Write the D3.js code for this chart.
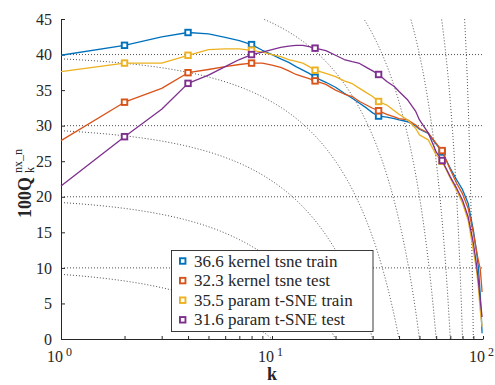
<!DOCTYPE html>
<html>
<head>
<meta charset="utf-8">
<script src="https://cdn.jsdelivr.net/npm/d3@7/dist/d3.min.js"></script>
<style>
  body { margin: 0; background: #fff; }
  svg { display: block; }
  text { font-family: "Liberation Serif", "Times New Roman", serif; fill: #262626; }
</style>
</head>
<body>
<svg id="chart" width="495" height="385"></svg>
<script>
// neighbourhood sizes k
const kVals = [1,2,3,4,5,6,7,8,9,10,11,12,13,14,15,16,18,20,22,24,26,28,30,32,35,38,40,44,48,50,55,60,64,70,75,80,85,90,93,95,97,98,99];

// 100 * Q_k^{nx_n} for each method
const kernelTrain = [39.9,41.3,42.5,43.1,42.9,42.4,41.95,41.4,40.6,40.0,39.4,38.9,38.3,37.8,37.35,36.8,36.1,35.4,34.55,33.85,33.15,32.5,31.8,31.35,31.2,31.0,30.8,30.55,29.95,29.5,28.9,27.4,26.3,24.0,22.4,21.0,19.1,15.3,12.5,10.2,6.4,3.8,0.8];
const kernelTest  = [27.9,33.3,35.25,37.45,37.9,38.3,38.6,38.8,38.8,38.5,38.2,37.7,37.2,36.9,36.6,36.3,35.8,35.0,34.45,34.1,33.4,32.9,32.45,32.1,31.6,31.25,31.0,30.8,30.1,29.6,29.0,27.5,26.5,23.8,21.9,20.4,18.4,14.9,12.5,11.1,9.9,8.3,6.6];
const paramTrain  = [37.6,38.8,38.8,39.9,40.7,40.8,40.8,40.6,40.35,40.0,39.7,39.3,39.05,38.8,38.3,37.8,37.35,36.9,36.3,35.9,35.25,34.65,34.1,33.4,32.9,32.1,31.6,30.8,29.6,28.7,28.0,25.9,25.0,22.6,20.9,19.1,16.7,12.5,9.9,7.4,4.1,2.9,1.7];
const paramTest   = [21.5,28.45,32.3,35.95,37.1,38.3,39.3,40.0,40.35,40.7,41.0,41.2,41.3,41.3,41.1,40.9,40.55,39.9,39.3,39.0,38.75,38.2,37.7,37.2,36.2,35.5,34.8,33.6,32.0,30.8,29.0,26.3,25.1,22.8,21.2,19.5,17.2,13.5,10.6,8.3,5.5,4.3,3.1];

const seriesNames = ["36.6 kernel tsne train","32.3 kernel tsne test","35.5 param t-SNE train","31.6 param t-SNE test"];
const seriesColors = ["#0072BD","#D95319","#EDB120","#7E2F8E"];
const markerK = [2,4,8,16,32,64];

// reference lines
const isoLevels = [10,20,30,40,50,60,70,80,90];
const flatLevels = [10,20,30,40];
const yTicks = [0,5,10,15,20,25,30,35,40,45];
const xTicks = [1,2,3,4,5,6,7,8,9,10,20,30,40,50,60,70,80,90,100];
const xLabels = [1,10,100];

const plot = {left: 61, right: 483, top: 19, bottom: 339};
const axisColor = "#262626";

const svg = d3.select("#chart");

const x = d3.scaleLog().domain([1,100]).range([plot.left, plot.right]);
const y = d3.scaleLinear().domain([0,45]).range([plot.bottom, plot.top]);

svg.append("defs").append("clipPath").attr("id","plotClip")
  .append("rect")
  .attr("x", plot.left).attr("y", plot.top)
  .attr("width", plot.right - plot.left).attr("height", plot.bottom - plot.top);

const guides = svg.append("g").attr("clip-path","url(#plotClip)")
  .attr("fill","none").attr("stroke","#3a3a3a")
  .attr("stroke-width",0.9).attr("stroke-dasharray","1 2");

// horizontal dotted levels
guides.selectAll("line.flat")
  .data(flatLevels)
  .join("line")
  .attr("class","flat")
  .attr("x1", x(1)).attr("x2", x(100))
  .attr("y1", d=>y(d)).attr("y2", d=>y(d));

// iso curves 100*(K0-k)/(100-k)
const isoLine = d3.line().x(d=>x(d[0])).y(d=>y(d[1]));
guides.selectAll("path.iso")
  .data(isoLevels)
  .join("path")
  .attr("class","iso")
  .attr("d", K0 => {
    const pts = d3.range(1, K0, 0.1).concat([K0]);
    return isoLine(pts.map(k => [k, 100*(K0-k)/(100-k)]));
  });

// axes
const yAxis = d3.axisLeft(y).tickValues(yTicks).tickSizeInner(-4).tickSizeOuter(0).tickPadding(9);
const gy = svg.append("g").attr("transform",`translate(${plot.left},0)`).call(yAxis);
gy.selectAll("text").style("font-size","16px").style("font-family",'"Liberation Serif", serif').attr("fill",axisColor);

const xAxis = d3.axisBottom(x).tickValues(xTicks).tickSizeInner(-3).tickSizeOuter(0).tickFormat("");
const gx = svg.append("g").attr("transform",`translate(0,${plot.bottom})`).call(xAxis);

[gx, gy].forEach(g => {
  g.select(".domain").attr("stroke",axisColor).attr("stroke-width",1);
  g.selectAll(".tick line").attr("stroke",axisColor);
});

// x tick labels 10^n
const xl = svg.append("g").selectAll("g").data(xLabels).join("g");
xl.append("text")
  .attr("x", d=>x(d)+2).attr("y", 362)
  .attr("text-anchor","end")
  .style("font-size","16px")
  .text("10");
xl.append("text")
  .attr("x", d=>x(d)+5).attr("y", 356)
  .style("font-size","12px")
  .text(d=>Math.round(Math.log10(d)));

// axis titles
svg.append("text")
  .attr("x", 272).attr("y", 380)
  .attr("text-anchor","middle")
  .style("font-size","18px").style("font-weight","bold")
  .text("k");

const yl = svg.append("g").attr("transform","translate(31,179) rotate(-90)");
yl.append("text").attr("x",-39).attr("y",0)
  .style("font-size","18px").style("font-weight","bold")
  .text("100Q");
yl.append("text").attr("x",6).attr("y",3)
  .style("font-size","12px")
  .text("k");
yl.append("text").attr("x",6).attr("y",-9)
  .style("font-size","12px")
  .text("nx_n");

// data lines
const series = [kernelTrain, kernelTest, paramTrain, paramTest];
const line = d3.line().x((d,i)=>x(kVals[i])).y(d=>y(d));

const lines = svg.append("g").selectAll("g").data(series).join("g");
lines.append("path")
  .attr("d", d=>line(d))
  .attr("fill","none")
  .attr("stroke",(d,i)=>seriesColors[i])
  .attr("stroke-width",1.3)
  .attr("stroke-linejoin","round");

const mSize = 5.5;
lines.each(function(vals, si){
  d3.select(this).selectAll("rect")
    .data(markerK)
    .join("rect")
    .attr("x", k=>x(k)-mSize/2)
    .attr("y", k=>y(vals[kVals.indexOf(k)])-mSize/2)
    .attr("width", mSize).attr("height", mSize)
    .attr("fill","#fff")
    .attr("stroke", seriesColors[si])
    .attr("stroke-width",1.9);
});

// legend
const legend = svg.append("g");
legend.append("rect")
  .attr("x",171.5).attr("y",250.5)
  .attr("width",201.5).attr("height",81)
  .attr("fill","#fff").attr("stroke",axisColor).attr("stroke-width",0.9);

const rows = legend.selectAll("g.row").data(seriesNames).join("g")
  .attr("class","row")
  .attr("transform",(d,i)=>`translate(0,${261 + i*19.6})`);
rows.append("rect")
  .attr("x",182.7-mSize/2).attr("y",-mSize/2)
  .attr("width",mSize).attr("height",mSize)
  .attr("fill","#fff")
  .attr("stroke",(d,i)=>seriesColors[i])
  .attr("stroke-width",1.9);
rows.append("text")
  .attr("x",194).attr("y",5.5)
  .style("font-size","17px")
  .text(d=>d);
</script>
</body>
</html>
